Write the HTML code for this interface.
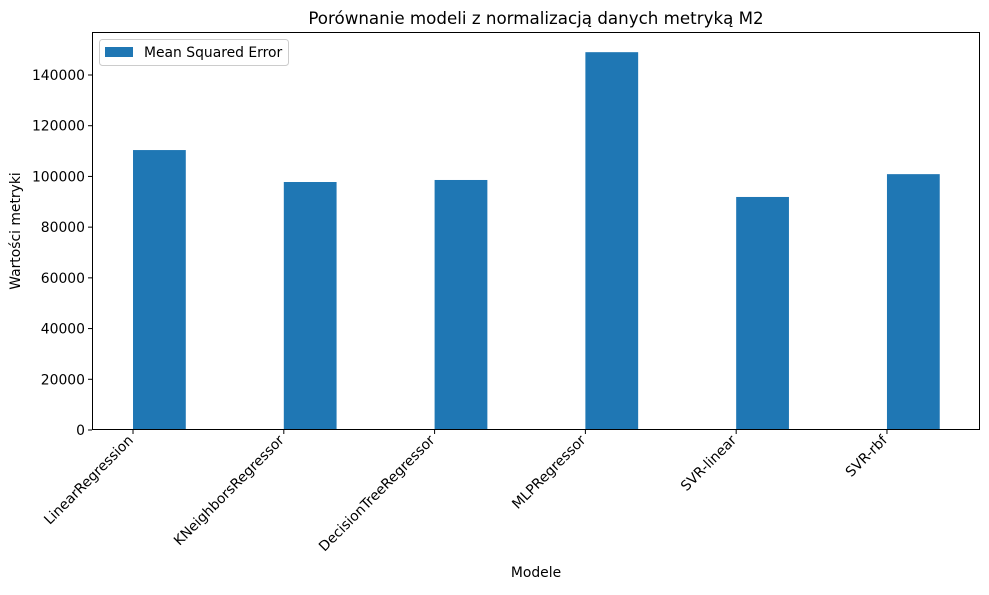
<!DOCTYPE html>
<html><head><meta charset="utf-8"><style>
body{margin:0;background:#fff;font-family:"Liberation Sans","DejaVu Sans",sans-serif}
svg text{font-family:"DejaVu Sans","Liberation Sans",sans-serif;fill:#000}
</style></head><body>
<svg id="c" width="989" height="590" xmlns="http://www.w3.org/2000/svg"></svg>
<script>
const categories=["LinearRegression","KNeighborsRegressor","DecisionTreeRegressor","MLPRegressor","SVR-linear","SVR-rbf"];
const mseValues=[110400,97800,98600,149000,91900,100900];
const yTicks=[0,20000,40000,60000,80000,100000,120000,140000];
const svg=document.getElementById('c');
const NS="http://www.w3.org/2000/svg";
const L=92,R=980,T=32,B=430;
const yMax=(430-32)/(430-75)*140000;
const xMin=-0.272,xMax=5.617;
const x=v=>L+(v-xMin)/(xMax-xMin)*(R-L);
const y=v=>B-v/yMax*(B-T);
function mk(t,a,txt){const e=document.createElementNS(NS,t);for(const k in a)e.setAttribute(k,a[k]);if(txt!==undefined)e.textContent=txt;svg.appendChild(e);return e;}
categories.forEach((c,i)=>{
 const b=mk('rect',{x:x(i),y:y(mseValues[i]),width:x(i+0.35)-x(i),height:B-y(mseValues[i]),fill:'#1f77b4'});
 
 
 mk('line',{x1:x(i),x2:x(i),y1:B,y2:B+4,stroke:'#000'});
 const t=mk('text',{x:x(i)+1,y:B+11,'font-size':13.9,'text-anchor':'end',transform:`rotate(-45 ${x(i)+1} ${B+11})`},c);
 
 
});
yTicks.forEach(v=>{
 mk('line',{x1:L-4,x2:L,y1:y(v),y2:y(v),stroke:'#000'});
 const t=mk('text',{x:L-7,y:y(v)+5,'font-size':13.9,'text-anchor':'end'},String(v));
 
 
});
const f=mk('rect',{x:L+0.5,y:T+0.5,width:R-L-1,height:B-T-1,fill:'none',stroke:'#000','stroke-width':1});

let e=mk('text',{x:536,y:24,'font-size':16.7,'text-anchor':'middle'},'Porównanie modeli z normalizacją danych metryką M2');

e=mk('text',{x:536,y:577,'font-size':13.9,'text-anchor':'middle'},'Modele');

e=mk('text',{x:20,y:231,'font-size':13.9,'text-anchor':'middle',transform:'rotate(-90 20 231)'},'Wartości metryki');

e=mk('rect',{x:99.5,y:39.5,width:189,height:26,fill:'#fff',stroke:'#ccc',rx:3});

mk('rect',{x:105,y:47,width:28,height:10,fill:'#1f77b4'});
e=mk('text',{x:144,y:57,'font-size':13.9},'Mean Squared Error');

</script>
</body></html>
